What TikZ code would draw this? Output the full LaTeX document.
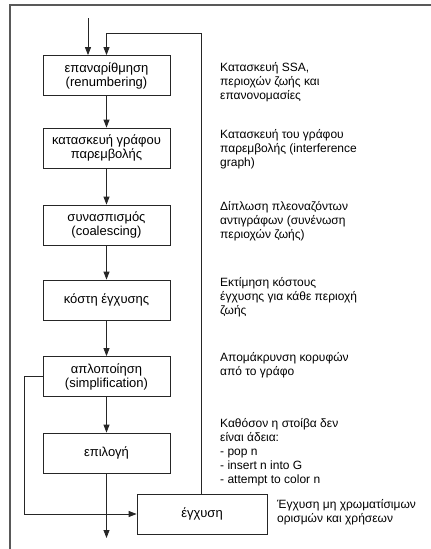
\documentclass[tikz,border=0pt]{standalone}
\usepackage{fontspec}
\setmainfont{Liberation Sans}
\usetikzlibrary{arrows.meta}
\begin{document}
\begin{tikzpicture}[x=1pt,y=-1pt,
  stage/.style={draw=black!85, line width=0.8pt, minimum width=127pt, minimum height=40pt,
    inner sep=1pt, align=center, font=\fontsize{13}{14}\selectfont},
  note/.style={anchor=north west, inner sep=0pt, align=left,
    font=\fontsize{12}{14}\selectfont},
  flow/.style={draw=black!85, line width=0.8pt, -{Triangle[width=6pt,length=8pt]}},
  link/.style={draw=black!85, line width=0.8pt},
  frame/.style={draw=black!65, line width=1.5pt}]
\useasboundingbox (0,0) rectangle (431,549);
% frame
\coordinate (f1) at (10,549);
\coordinate (f2) at (10,5);
\coordinate (f3) at (431,5);
\draw[frame] (f1) -- (f2) -- (f3);
% stages
\node[stage] (b1) at (106.5,75.5) {επαναρίθμηση\\(renumbering)};
\node[stage] (b2) at (106.5,148) {κατασκευή γράφου\\παρεμβολής};
\node[stage] (b3) at (106.5,225) {συνασπισμός\\(coalescing)};
\node[stage] (b4) at (106.5,300) {κόστη έγχυσης};
\node[stage] (b5) at (106.5,376.5) {απλοποίηση\\(simplification)};
\node[stage] (b6) at (106.5,453) {επιλογή};
\node[stage, minimum width=130pt] (b7) at (202,514) {έγχυση};
% notes
\node[note] (n1) at (220,62) {Κατασκευή SSA,\\περιοχών ζωής και\\επανονομασίες};
\node[note] (n2) at (220,129) {Κατασκευή του γράφου\\παρεμβολής (interference\\graph)};
\node[note] (n3) at (220,201) {Δίπλωση πλεοναζόντων\\αντιγράφων (συνένωση\\περιοχών ζωής)};
\node[note] (n4) at (220,277) {Εκτίμηση κόστους\\έγχυσης για κάθε περιοχή\\ζωής};
\node[note] (n5) at (220,352) {Απομάκρυνση κορυφών\\από το γράφο};
\node[note] (n6) at (220,418) {Καθόσον η στοίβα δεν\\είναι άδεια:\\- pop n\\- insert n into G\\- attempt to color n};
\node[note] (n7) at (277,499) {Έγχυση μη χρωματίσιμων\\ορισμών και χρήσεων};
% connectors
\coordinate (in) at (88,18);
\draw[flow] (in) -- (in |- b1.north);
\draw[flow] (b1) -- (b2);
\draw[flow] (b2) -- (b3);
\draw[flow] (b3) -- (b4);
\draw[flow] (b4) -- (b5);
\draw[flow] (b5) -- (b6);
\coordinate (out) at (106.5,538);
\draw[flow] (b6) -- (out);
% feedback loop
\coordinate (fb) at (201,33);
\draw[flow] (b7.north -| fb) -- (fb) -- (fb -| b1.north) -- (b1.north);
% spill path
\coordinate (sp) at (24,376.5);
\draw[flow] (b5.west) -- (sp) -- (sp |- b7.west) -- (b7.west);
\end{tikzpicture}
\end{document}
